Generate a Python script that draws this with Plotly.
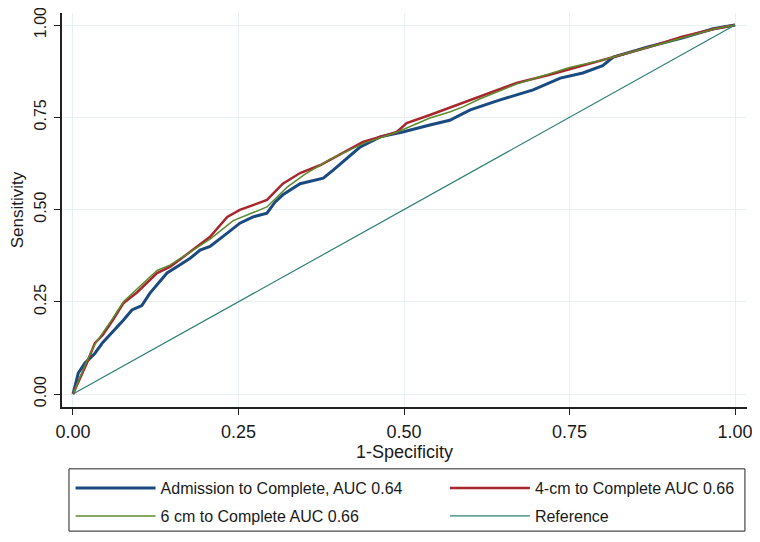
import plotly.graph_objects as go

# Admission to Complete (blue)
adm_x = [0, 0.008, 0.018, 0.033, 0.045, 0.06, 0.076, 0.089, 0.104, 0.116, 0.129, 0.142,
         0.157, 0.177, 0.192, 0.207, 0.233, 0.252, 0.272, 0.293, 0.305, 0.317, 0.343,
         0.378, 0.393, 0.414, 0.434, 0.464, 0.498, 0.539, 0.569, 0.60, 0.645, 0.695,
         0.736, 0.77, 0.80, 0.816, 0.867, 0.921, 0.967, 1.0]
adm_y = [0, 0.057, 0.084, 0.11, 0.14, 0.168, 0.2, 0.228, 0.24, 0.273, 0.30, 0.328,
         0.345, 0.368, 0.39, 0.40, 0.436, 0.463, 0.48, 0.49, 0.52, 0.54, 0.57,
         0.585, 0.607, 0.64, 0.67, 0.697, 0.71, 0.729, 0.742, 0.77, 0.797, 0.824,
         0.856, 0.87, 0.89, 0.913, 0.94, 0.965, 0.99, 1.0]

# 4-cm to Complete (red)
cm4_x = [0, 0.01, 0.021, 0.033, 0.045, 0.06, 0.076, 0.097, 0.127, 0.147, 0.177, 0.207,
         0.233, 0.252, 0.272, 0.293, 0.317, 0.343, 0.373, 0.403, 0.438, 0.489, 0.504,
         0.539, 0.58, 0.615, 0.67, 0.72, 0.77, 0.82, 0.87, 0.92, 0.97, 1.0]
cm4_y = [0, 0.04, 0.084, 0.138, 0.16, 0.2, 0.246, 0.276, 0.328, 0.345, 0.385, 0.426,
         0.48, 0.499, 0.512, 0.526, 0.57, 0.599, 0.62, 0.648, 0.683, 0.71, 0.734,
         0.756, 0.783, 0.805, 0.843, 0.865, 0.89, 0.913, 0.94, 0.968, 0.99, 1.0]

# 6 cm to Complete (green)
cm6_x = [0, 0.01, 0.021, 0.033, 0.045, 0.06, 0.076, 0.097, 0.127, 0.147, 0.177, 0.207,
         0.242, 0.27, 0.293, 0.323, 0.35, 0.388, 0.44, 0.49, 0.539, 0.57, 0.589, 0.615,
         0.67, 0.72, 0.75, 0.8, 0.87, 0.92, 0.97, 1.0]
cm6_y = [0, 0.045, 0.09, 0.135, 0.165, 0.205, 0.25, 0.285, 0.335, 0.35, 0.385, 0.42,
         0.47, 0.49, 0.507, 0.56, 0.595, 0.636, 0.68, 0.71, 0.748, 0.765, 0.778, 0.8,
         0.84, 0.868, 0.885, 0.905, 0.94, 0.966, 0.99, 1.0]

# Reference diagonal
ref_x = [0, 1]
ref_y = [0, 1]

tick_vals = [0, 0.25, 0.5, 0.75, 1.0]
tick_text = ["0.00", "0.25", "0.50", "0.75", "1.00"]

FONT = "Liberation Sans, Arial, sans-serif"

fig = go.Figure()
fig.add_trace(go.Scatter(x=adm_x, y=adm_y, mode="lines",
                         name="Admission to Complete, AUC 0.64",
                         legend="legend", legendgroup="a", legendrank=1,
                         line=dict(color="#1a4a80", width=3)))
fig.add_trace(go.Scatter(x=cm4_x, y=cm4_y, mode="lines",
                         name="4-cm to Complete AUC 0.66",
                         legend="legend2", legendgroup="b", legendrank=1,
                         line=dict(color="#a8262e", width=2.5)))
fig.add_trace(go.Scatter(x=cm6_x, y=cm6_y, mode="lines",
                         name="6 cm to Complete AUC 0.66",
                         legend="legend", legendgroup="c", legendrank=2,
                         line=dict(color="#5c8a2e", width=1.5)))
fig.add_trace(go.Scatter(x=ref_x, y=ref_y, mode="lines",
                         name="Reference",
                         legend="legend2", legendgroup="d", legendrank=2,
                         line=dict(color="#2e7f73", width=1.2)))

legend_common = dict(
    orientation="v",
    yanchor="top", y=-0.163,
    xanchor="left",
    borderwidth=0,
    bgcolor="rgba(0,0,0,0)",
    itemwidth=80,
    tracegroupgap=4,
    traceorder="grouped",
    font=dict(family=FONT, size=16, color="#1a1a1a"),
)

# page body has an 8px default margin -> figure is 8px smaller and margins shifted
fig.update_layout(
    width=752, height=534,
    margin=dict(l=54, r=13, t=5, b=135, autoexpand=False),
    paper_bgcolor="white", plot_bgcolor="white",
    font=dict(family=FONT, size=18, color="#1a1a1a"),
    showlegend=True,
    legend=dict(x=0.0125, **legend_common),
    legend2=dict(x=0.559, **legend_common),
    shapes=[dict(type="rect", xref="paper", yref="paper",
                 x0=0.0102, x1=0.997, y0=-0.315, y1=-0.157,
                 line=dict(color="#222222", width=1), fillcolor="rgba(0,0,0,0)",
                 layer="above")],
)

fig.update_xaxes(
    range=[-0.0166, 1.018],
    tickvals=tick_vals, ticktext=tick_text,
    ticks="outside", ticklen=6, tickcolor="#222222", tickwidth=1,
    ticklabelstandoff=2,
    showline=True, linecolor="#222222", linewidth=1.5,
    showgrid=True, gridcolor="#e8f0f2", gridwidth=1,
    zeroline=False,
    tickfont=dict(size=18),
    title=dict(text="1-Specificity", font=dict(size=18), standoff=0),
)
fig.update_yaxes(
    range=[-0.035, 1.0325],
    tickvals=tick_vals, ticktext=tick_text,
    tickangle=-90,
    ticklabeloverflow="allow",
    ticks="outside", ticklen=6, tickcolor="#222222", tickwidth=1,
    ticklabelstandoff=2,
    showline=True, linecolor="#222222", linewidth=1.5,
    showgrid=True, gridcolor="#e8f0f2", gridwidth=1,
    zeroline=False,
    tickfont=dict(size=16),
    title=dict(text="Sensitivity", font=dict(size=17), standoff=4),
)

fig.write_html("out.html")
